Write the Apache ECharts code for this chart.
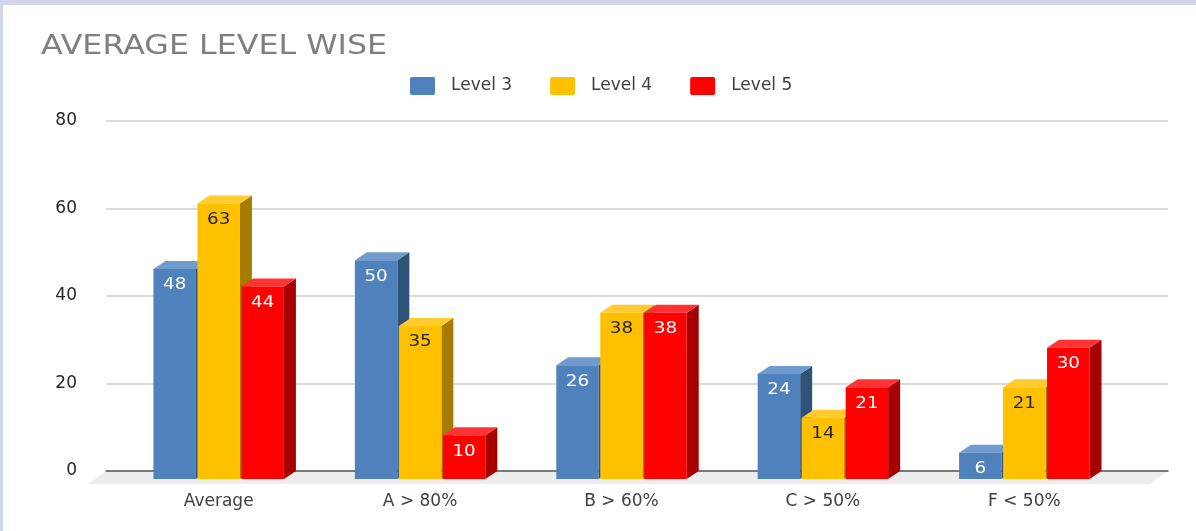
<!DOCTYPE html>
<html>
<head>
<meta charset="utf-8">
<title>Average level wise</title>
<style>
    html, body { margin: 0; padding: 0; background: #fff; }
    #main { width: 1196px; height: 531px; }
</style>
<script src="https://cdn.jsdelivr.net/npm/echarts@6/dist/echarts.min.js"></script>
</head>
<body>
<div id="main"></div>
<script>
var categories = ['Average', 'A > 80%', 'B > 60%', 'C > 50%', 'F < 50%'];
var level3 = [48, 50, 26, 24, 6];
var level4 = [63, 35, 38, 14, 21];
var level5 = [44, 10, 38, 21, 30];
var yTicks = [0, 20, 40, 60, 80];

var font = '"DejaVu Sans", sans-serif';
var depthX = 12;
var depthY = 8;
// 原图的文字被横向拉伸过
var stretch = 1.22;

// 画一根带顶面和侧面的柱子，front/top/side 是三个面的颜色
function bar3d(seriesPos, front, top, side, labelColor) {
    return function (params, api) {
        var band = api.size([1, 0])[0];
        var step = band * 0.2184;
        var w = step - 1.5;
        var p = api.coord([api.value(0), api.value(1)]);
        var base = api.coord([api.value(0), 0]);
        var x = p[0] + (seriesPos - 1) * step - w / 2;
        var y = p[1];
        var b = base[1];
        return {
            type: 'group',
            children: [
                {
                    type: 'polygon',
                    shape: { points: [[x + w, y], [x + w + depthX, y - depthY], [x + w + depthX, b - depthY], [x + w, b]] },
                    style: { fill: side }
                },
                {
                    type: 'polygon',
                    shape: { points: [[x, y], [x + depthX, y - depthY], [x + w + depthX, y - depthY], [x + w, y]] },
                    style: { fill: top }
                },
                {
                    type: 'rect',
                    shape: { x: x, y: y, width: w, height: b - y },
                    style: { fill: front }
                },
                {
                    type: 'text',
                    x: x + w / 2,
                    y: y + 16.5,
                    scaleX: stretch,
                    style: {
                        text: String(api.value(1)),
                        fill: labelColor,
                        font: '15px ' + font,
                        textAlign: 'center',
                        textVerticalAlign: 'middle'
                    }
                }
            ]
        };
    };
}

function makeSeries(name, values, pos, front, top, side, labelColor) {
    return {
        name: name,
        type: 'custom',
        xAxisIndex: 1,
        yAxisIndex: 1,
        clip: false,
        itemStyle: { color: front },
        encode: { x: 0, y: 1 },
        data: values.map(function (v, i) { return [i, v]; }),
        renderItem: bar3d(pos, front, top, side, labelColor)
    };
}

var chart = echarts.init(document.getElementById('main'));
chart.setOption({
    backgroundColor: '#fff',
    animation: false,
    textStyle: { fontFamily: font },
    legend: {
        left: 410,
        top: 77,
        padding: 0,
        itemWidth: 25,
        itemHeight: 18,
        itemGap: 38,
        icon: 'path://M2 0H23Q25 0 25 2V16Q25 18 23 18H2Q0 18 0 16V2Q0 0 2 0Z',
        data: ['Level 3', 'Level 4', 'Level 5'],
        textStyle: { color: '#404040', fontSize: 17, padding: [2, 0, 0, 11] }
    },
    // 第一个 grid 画网格线，第二个是柱子所在的前平面
    grid: [
        { left: 106, right: 28, top: 121, bottom: 60 },
        { left: 118, right: 71, top: 129, bottom: 52 }
    ],
    xAxis: [
        {
            gridIndex: 0,
            type: 'category',
            data: categories,
            axisLine: { lineStyle: { color: '#595959', width: 1.5 } },
            axisTick: { show: false },
            axisLabel: { show: false }
        },
        {
            gridIndex: 1,
            type: 'category',
            data: categories,
            axisLine: { show: false },
            axisTick: { show: false },
            axisLabel: { color: '#404040', fontSize: 17, margin: 14, fontFamily: font }
        }
    ],
    yAxis: [
        {
            gridIndex: 0,
            type: 'value',
            min: yTicks[0],
            max: yTicks[yTicks.length - 1],
            interval: yTicks[1] - yTicks[0],
            axisLine: { show: false },
            axisTick: { show: false },
            axisLabel: { color: '#262626', fontSize: 17, margin: 29, padding: [5, 0, 0, 0], fontFamily: font },
            splitLine: { lineStyle: { color: '#cfcfcf', width: 1.5 } }
        },
        {
            gridIndex: 1,
            type: 'value',
            min: yTicks[0],
            max: yTicks[yTicks.length - 1],
            interval: yTicks[1] - yTicks[0],
            show: false
        }
    ],
    graphic: [
        { type: 'rect', z: 100, shape: { x: 0, y: 0, width: 1196, height: 5 }, style: { fill: '#d3d5ea' } },
        { type: 'rect', z: 100, shape: { x: 0, y: 0, width: 3, height: 531 }, style: { fill: '#d3d5ea' } },
        { type: 'polygon', z: -1, shape: { points: [[106, 471], [1168, 471], [1150, 484], [88, 484]] }, style: { fill: '#ededed' } },
        {
            type: 'text',
            x: 41,
            y: 47,
            scaleX: stretch,
            style: {
                text: 'AVERAGE LEVEL WISE',
                fill: '#7f7f7f',
                font: '26px ' + font,
                textAlign: 'left',
                textVerticalAlign: 'middle'
            }
        }
    ],
    series: [
        makeSeries('Level 3', level3, 0, '#4f81bd', '#6f9bcf', '#2f5279', '#ffffff'),
        makeSeries('Level 4', level4, 1, '#ffc000', '#ffcb2f', '#a67c00', '#262626'),
        makeSeries('Level 5', level5, 2, '#ff0000', '#ff3333', '#a60000', '#ffffff')
    ]
});
</script>
</body>
</html>
